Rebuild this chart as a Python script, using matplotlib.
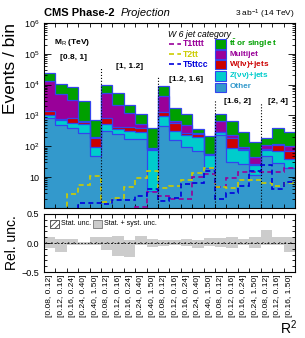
import numpy as np
import matplotlib
matplotlib.use('Agg')
import matplotlib.pyplot as plt
from matplotlib.patches import Rectangle
from matplotlib.lines import Line2D
from matplotlib.ticker import FixedLocator, FixedFormatter, LogLocator, NullFormatter, MultipleLocator

plt.rcParams['font.family'] = ['Liberation Sans', 'DejaVu Sans']
plt.rcParams['mathtext.fontset'] = 'custom'
plt.rcParams['mathtext.rm'] = 'Liberation Sans'
plt.rcParams['mathtext.it'] = 'Liberation Sans:italic'
plt.rcParams['mathtext.bf'] = 'Liberation Sans:bold'
plt.rcParams['hatch.linewidth'] = 0.6

#==================== data ====================#
bin_labels = ['[0.08, 0.12]', '[0.12, 0.16]', '[0.16, 0.24]', '[0.24, 0.40]', '[0.40, 1.50]',
              '[0.08, 0.12]', '[0.12, 0.16]', '[0.16, 0.24]', '[0.24, 0.40]', '[0.40, 1.50]',
              '[0.08, 0.12]', '[0.12, 0.16]', '[0.16, 0.24]', '[0.24, 0.40]', '[0.40, 1.50]',
              '[0.08, 0.12]', '[0.12, 0.16]', '[0.16, 0.24]', '[0.24, 1.50]',
              '[0.08, 0.12]', '[0.12, 0.16]', '[0.16, 1.50]']
mr_groups = ['[0.8, 1]', '[1, 1.2]', '[1.2, 1.6]', '[1.6, 2]', '[2, 4]']
mr_group_size = [5, 5, 5, 4, 3]

# backgrounds (stacked, bottom -> top)
other = [830, 480, 390, 270, 47, 310, 250, 170, 170, 3.5, 450, 158, 93, 69, 20,
         230, 30, 26, 12, 50, 28, 20]
znn = [210, 230, 180, 260, 46, 220, 110, 140, 120, 70, 510, 150, 137, 127, 31,
       50, 56, 49, 13, 25, 40, 20]
wln = [360, 60, 260, 90, 90, 300, 60, 110, 100, 6, 340, 260, 40, 54, 4,
       10, 97, 5, 1, 5, 42, 28]
qcd = [12100, 4230, 2370, 40, 12, 4670, 1780, 780, 140, 6, 3100, 90, 220, 20, 3,
       370, 47, 13, 19, 30, 7, 32]
ttbar = [10500, 5700, 5300, 2340, 515, 4500, 3300, 1000, 570, 304, 4900, 1120, 630, 90, 155,
         460, 430, 197, 90, 75, 273, 190]

# signals
t1tttt = [0.5, 0.5, 0.5, 0.5, 0.5, 0.5, 0.5, 0.5, 1.1, 3.3, 2.5, 2, 2, 10, 13,
          4.9, 9.6, 15, 15, 15, 15, 19]
t2tt = [0.5, 0.5, 2.9, 5.7, 11, 1.5, 2.1, 4.9, 9.6, 16, 4.5, 5, 8, 14, 20,
        4.9, 4.3, 8.3, 8.3, 6.6, 5.3, 6.3]
t5ttcc = [0.5, 0.5, 0.5, 1.4, 1.4, 1.3, 1.8, 1.8, 2.5, 4, 1.7, 2.1, 6.1, 6.6, 16,
          2, 3.1, 5.3, 16, 24, 4.2, 7]

# relative uncertainties
syst_up = [0.10, 0.064, 0.064, 0.023, 0.11, 0.11, 0.12, 0.052, 0.12, 0.07, 0.05,
           0.05, 0.063, 0.05, 0.08, 0.08, 0.10, 0.063, 0.11, 0.22, 0.10, 0.11]
syst_dn = [0.08, 0.15, 0.04, 0.034, 0.04, 0.12, 0.22, 0.24, 0.04, 0.06, 0.055,
           0.034, 0.052, 0.092, 0.052, 0.063, 0.092, 0.034, 0.092, 0.034, 0.034, 0.15]
stat = [0.01, 0.015, 0.015, 0.008, 0.01, 0.01, 0.015, 0.015, 0.015, 0.015, 0.01,
        0.01, 0.015, 0.015, 0.015, 0.01, 0.015, 0.015, 0.015, 0.015, 0.015, 0.015]

n = len(bin_labels)
edges = np.arange(n + 1)
centers = edges[:-1] + 0.5

#==================== figure ====================#
fig = plt.figure(figsize=(3.05, 3.38), dpi=100)
ax = fig.add_axes([0.144, 0.385, 0.823, 0.547])
rax = fig.add_axes([0.144, 0.195, 0.823, 0.172])

bkgs = [(other, '#3399cc', 'Other'),
        (znn, '#00cccc', r'Z($\mathbf{\nu\nu}$)+jets'),
        (wln, '#cc0000', r'W(l$\mathbf{\nu}$)+jets'),
        (qcd, '#990099', 'Multijet'),
        (ttbar, '#00a000', r'$\mathbf{t\bar{t}}$ or single t')]

base = np.full(n, 1e-3)
for vals, col, lab in bkgs:
    top = base + np.array(vals, dtype=float)
    ax.stairs(top, edges, baseline=base, fill=True, color=col, zorder=1)
    ax.stairs(top, edges, baseline=None, color='#3344ee', lw=0.9, zorder=2)
    base = top

sigs = [(t1tttt, '#990099', 'T1tttt'), (t2tt, '#cccc00', 'T2tt'), (t5ttcc, '#0000dd', 'T5ttcc')]
for vals, col, lab in sigs:
    ax.stairs(vals, edges, baseline=None, color=col, lw=1.2, ls=(0, (3, 2)), zorder=3)

ax.set_yscale('log')
ax.set_xlim(0, n)
ax.set_ylim(1, 1e6)

# M_R group separators and labels
bounds = np.cumsum(mr_group_size)
sep_tops = [0.762, 0.708, 0.584, 0.568]
for b, t in zip(bounds[:-1], sep_tops):
    ax.axvline(b, ymin=0, ymax=t, color='k', ls=':', lw=0.8, zorder=4)
grp_pos = [(0.116, 0.816), (0.343, 0.762), (0.566, 0.692), (0.773, 0.578), (0.932, 0.578)]
for lab, (gx, gy) in zip(mr_groups, grp_pos):
    ax.text(gx, gy, lab, transform=ax.transAxes, ha='center', va='center',
            fontsize=6, fontweight='bold')
ax.text(0.112, 0.897, r'M$_{\rm R}$ (TeV)', transform=ax.transAxes, ha='center', va='center',
        fontsize=6, fontweight='bold')

# legend
ax.text(0.496, 0.94, 'W 6 jet category', transform=ax.transAxes, ha='left', va='center',
        fontsize=6.3, style='italic')
rows = [0.887, 0.832, 0.778, 0.714, 0.654]
for (vals, col, lab), ry in zip(sigs, rows):
    ax.add_line(Line2D([0.50, 0.545], [ry, ry], transform=ax.transAxes, color=col,
                       lw=1.2, ls=(0, (3, 2))))
    ax.text(0.555, ry, lab, transform=ax.transAxes, ha='left', va='center',
            fontsize=6.2, fontweight='bold', color=col)
for (vals, col, lab), ry in zip(bkgs[::-1], rows):
    ax.add_patch(Rectangle((0.683, ry - 0.026), 0.043, 0.05, transform=ax.transAxes,
                           facecolor=col, edgecolor='#3344ee', lw=0.8, zorder=5))
    ax.text(0.738, ry, lab, transform=ax.transAxes, ha='left', va='center',
            fontsize=5.9, fontweight='bold', color=col)

# ticks main
ax.yaxis.set_major_locator(FixedLocator([10, 1e2, 1e3, 1e4, 1e5, 1e6]))
ax.yaxis.set_major_formatter(FixedFormatter(['10', r'$10^{2}$', r'$10^{3}$', r'$10^{4}$',
                                             r'$10^{5}$', r'$10^{6}$']))
ax.yaxis.set_minor_locator(LogLocator(base=10, subs=np.arange(2, 10), numticks=20))
ax.yaxis.set_minor_formatter(NullFormatter())
ax.set_xticks(edges[1:-1])
ax.set_xticklabels([])
ax.tick_params(axis='both', which='both', direction='in', top=True, right=True,
               labelsize=6.5, width=0.6)
ax.tick_params(axis='y', which='major', length=5)
ax.tick_params(axis='y', which='minor', length=2.5)
ax.tick_params(axis='x', which='major', length=3)
ax.set_ylabel('Events / bin', fontsize=12.5, loc='top', labelpad=4)
for s in ax.spines.values():
    s.set_linewidth(0.8)

#==================== ratio ====================#
up = np.array(syst_up)
dn = np.array(syst_dn)
st = np.array(stat)
rax.stairs(up, edges, baseline=-dn, fill=True, color='#cccccc', zorder=1)
rax.stairs(st, edges, baseline=-st, fill=True, facecolor='none', edgecolor='#444444',
           hatch='//////', lw=0, zorder=2)
rax.axhline(0, color='k', ls=(0, (2, 2)), lw=0.6, zorder=3)
rax.set_xlim(0, n)
rax.set_ylim(-0.5, 0.5)
rax.yaxis.set_major_locator(FixedLocator([-0.5, 0.0, 0.5]))
rax.yaxis.set_major_formatter(FixedFormatter(['\u22120.5', '0.0', '0.5']))
rax.yaxis.set_minor_locator(MultipleLocator(0.1))
rax.set_xticks(edges[1:-1])
rax.set_xticklabels([])
rax.set_xticks(centers, minor=True)
rax.set_xticklabels(bin_labels, minor=True, rotation=90, fontsize=6)
rax.tick_params(axis='x', which='minor', length=0, pad=2)
rax.tick_params(axis='x', which='major', length=3, direction='in', top=True, width=0.6)
rax.tick_params(axis='y', which='both', direction='in', right=True, labelsize=6.5, width=0.6)
rax.tick_params(axis='y', which='major', length=5)
rax.tick_params(axis='y', which='minor', length=2.5)
rax.set_ylabel('Rel. unc.', fontsize=10, labelpad=2)
for s in rax.spines.values():
    s.set_linewidth(0.8)

rax.add_patch(Rectangle((0.024, 0.76), 0.036, 0.14, transform=rax.transAxes,
                        facecolor='white', edgecolor='#444444', hatch='//////', lw=0.6))
rax.text(0.068, 0.83, 'Stat. unc.', transform=rax.transAxes, fontsize=5, va='center')
rax.add_patch(Rectangle((0.195, 0.76), 0.036, 0.14, transform=rax.transAxes,
                        facecolor='#cccccc', edgecolor='#777777', lw=0.6))
rax.text(0.239, 0.83, 'Stat. + syst. unc.', transform=rax.transAxes, fontsize=5, va='center')

fig.text(0.975, 0.004, r'R$^{2}$', fontsize=10, ha='right', va='bottom')

# header
fig.text(0.144, 0.952, 'CMS Phase-2', fontsize=8, fontweight='bold', ha='left', va='baseline')
fig.text(0.397, 0.952, 'Projection', fontsize=8, style='italic', ha='left', va='baseline')
fig.text(0.967, 0.952, r'3 ab$^{-1}$ (14 TeV)', fontsize=6, ha='right', va='baseline')

fig.savefig('out.png', dpi=100)
